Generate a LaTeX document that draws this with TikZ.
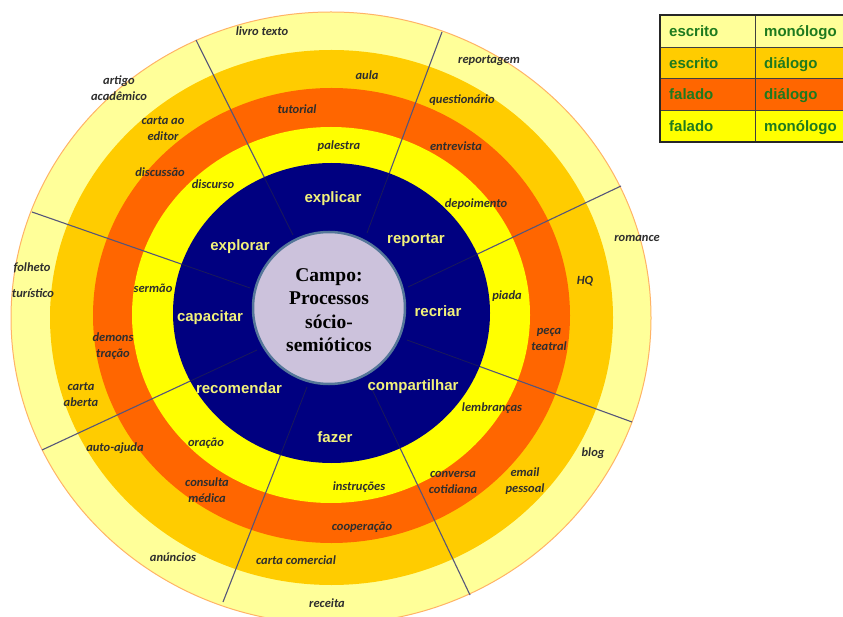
\documentclass[tikz,border=0pt]{standalone}
\usepackage{fontspec}
\setmainfont{Liberation Sans}
\newfontfamily\lblfont{Carlito}
\newfontfamily\serifb{Liberation Serif}
\definecolor{pale}{HTML}{FFFF99}
\definecolor{gold}{HTML}{FFCC00}
\definecolor{dorange}{HTML}{FF6600}
\definecolor{yel}{HTML}{FFFF00}
\definecolor{navyfill}{HTML}{000080}
\definecolor{lav}{HTML}{CCC2DC}
\definecolor{rim}{HTML}{557799}
\definecolor{divline}{HTML}{55557A}
\definecolor{divdark}{HTML}{1A1A5A}
\definecolor{lgreen}{HTML}{1E7A1E}
\definecolor{navytext}{HTML}{F2F27A}
\definecolor{rimorange}{HTML}{FFB366}
\begin{document}
\begin{tikzpicture}[x=1pt,y=-1pt,
  lbl/.style={font=\lblfont\bfseries\itshape\fontsize{12.5}{16}\selectfont, text=black!82, align=center, inner sep=0pt},
  verb/.style={font=\bfseries\fontsize{15}{17}\selectfont, text=navytext, inner sep=0pt},
  leg/.style={font=\bfseries\fontsize{15}{17}\selectfont, text=lgreen, anchor=base west, inner sep=0pt},
  divider/.style={draw=divline, line width=1.1pt},
  divinner/.style={draw=divdark, line width=0.8pt}]
\useasboundingbox (0,0) rectangle (843,617);
\clip (0,0) rectangle (843,617);
\fill[white] (0,0) rectangle (843,617);
% rings
\filldraw[fill=pale, draw=rimorange, line width=1pt] (331,318) ellipse [x radius=320pt, y radius=306pt];
\fill[gold] (331.5,317.5) ellipse [x radius=281.5pt, y radius=267.5pt];
\fill[dorange] (331.5,315.5) ellipse [x radius=238.5pt, y radius=227.5pt];
\fill[yel] (331,315) ellipse [x radius=199pt, y radius=188pt];
% divider coordinates
\coordinate (i1) at (293,235); \coordinate (o1) at (196,40);
\coordinate (i2) at (367,233); \coordinate (o2) at (442,32);
\coordinate (i3) at (408,287); \coordinate (o3) at (621,186);
\coordinate (i4) at (407,340); \coordinate (o4) at (632,422);
\coordinate (i5) at (370,385); \coordinate (o5) at (470,595);
\coordinate (i6) at (307,387); \coordinate (o6) at (223,602);
\coordinate (i7) at (257,350); \coordinate (o7) at (42,450);
\coordinate (i8) at (250,288); \coordinate (o8) at (32,212);
\foreach \k in {1,...,8} {\draw[divider] (i\k) -- (o\k);}
% navy disc
\fill[navyfill] (331.5,313) ellipse [x radius=158.5pt, y radius=150pt];
\begin{scope}
\clip (331.5,313) ellipse [x radius=158.5pt, y radius=150pt];
\foreach \k in {1,...,8} {\draw[divinner] (i\k) -- (o\k);}
\end{scope}
% centre
\node[circle, minimum size=152pt, inner sep=0pt, fill=lav, draw=rim, line width=2.5pt] (campo) at (329,308) {};
\node[font=\serifb\bfseries\fontsize{19.5}{23.5}\selectfont, align=center, inner sep=0pt] (campotext) at (329,310) {Campo:\\Processos\\sócio-\\semióticos};
% verbs
\node[verb] (v1) at (333,199) {explicar};
\node[verb] (v2) at (416,240) {reportar};
\node[verb] (v3) at (438,311) {recriar};
\node[verb] (v4) at (413,387) {compartilhar};
\node[verb] (v5) at (335,437) {fazer};
\node[verb] (v6) at (239,388) {recomendar};
\node[verb] (v7) at (210,318) {capacitar};
\node[verb] (v8) at (240,247) {explorar};
% pale ring labels
\node[lbl] (p1) at (262,31) {livro texto};
\node[lbl] (p2) at (119,88) {artigo\\acadêmico};
\node[lbl] (p3) at (32,268) {folheto};
\node[lbl] (p4) at (33,293) {turístico};
\node[lbl] (p5) at (173,557) {anúncios};
\node[lbl] (p6) at (327,603) {receita};
\node[lbl] (p7) at (593,453) {blog};
\node[lbl] (p8) at (637,238) {romance};
\node[lbl] (p9) at (489,61) {reportagem};
% gold ring labels
\node[lbl] (g1) at (367,75) {aula};
\node[lbl] (g2) at (163,129) {carta ao\\editor};
\node[lbl] (g3) at (160,172) {discussão};
\node[lbl] (g4) at (81,395) {carta\\aberta};
\node[lbl] (g5) at (115,448) {auto-ajuda};
\node[lbl] (g6) at (296,560) {carta comercial};
\node[lbl] (g7) at (525,481) {email\\pessoal};
\node[lbl] (g8) at (585,281) {HQ};
\node[lbl] (g9) at (462,100) {questionário};
% orange ring labels
\node[lbl] (r1) at (297,109) {tutorial};
\node[lbl] (r2) at (113,346) {demons\\tração};
\node[lbl] (r3) at (207,490) {consulta\\médica};
\node[lbl] (r4) at (362,527) {cooperação};
\node[lbl] (r5) at (453,482) {conversa\\cotidiana};
\node[lbl] (r6) at (549,339) {peça\\teatral};
\node[lbl] (r7) at (456,146) {entrevista};
% yellow ring labels
\node[lbl] (y1) at (339,146) {palestra};
\node[lbl] (y2) at (213,184) {discurso};
\node[lbl] (y3) at (153,288) {sermão};
\node[lbl] (y4) at (206,443) {oração};
\node[lbl] (y5) at (359,487) {instruções};
\node[lbl] (y6) at (492,408) {lembranças};
\node[lbl] (y7) at (507,296) {piada};
\node[lbl] (y8) at (476,204) {depoimento};
% legend
\fill[pale] (660,15) rectangle (870,47);
\fill[gold] (660,47) rectangle (870,78);
\fill[dorange] (660,78) rectangle (870,110);
\fill[yel] (660,110) rectangle (870,142);
\draw[black!75, line width=0.9pt] (660,47) -- (870,47) (660,78) -- (870,78) (660,110) -- (870,110) (755,15) -- (755,142);
\draw[black!85, line width=2pt] (660,15) rectangle (870,142);
\node[leg] (l1a) at (669,37) {escrito};
\node[leg] (l1b) at (764,37) {monólogo};
\node[leg] (l2a) at (669,68.5) {escrito};
\node[leg] (l2b) at (764,68.5) {diálogo};
\node[leg] (l3a) at (669,100) {falado};
\node[leg] (l3b) at (764,100) {diálogo};
\node[leg] (l4a) at (669,131.5) {falado};
\node[leg] (l4b) at (764,131.5) {monólogo};
\end{tikzpicture}
\end{document}
